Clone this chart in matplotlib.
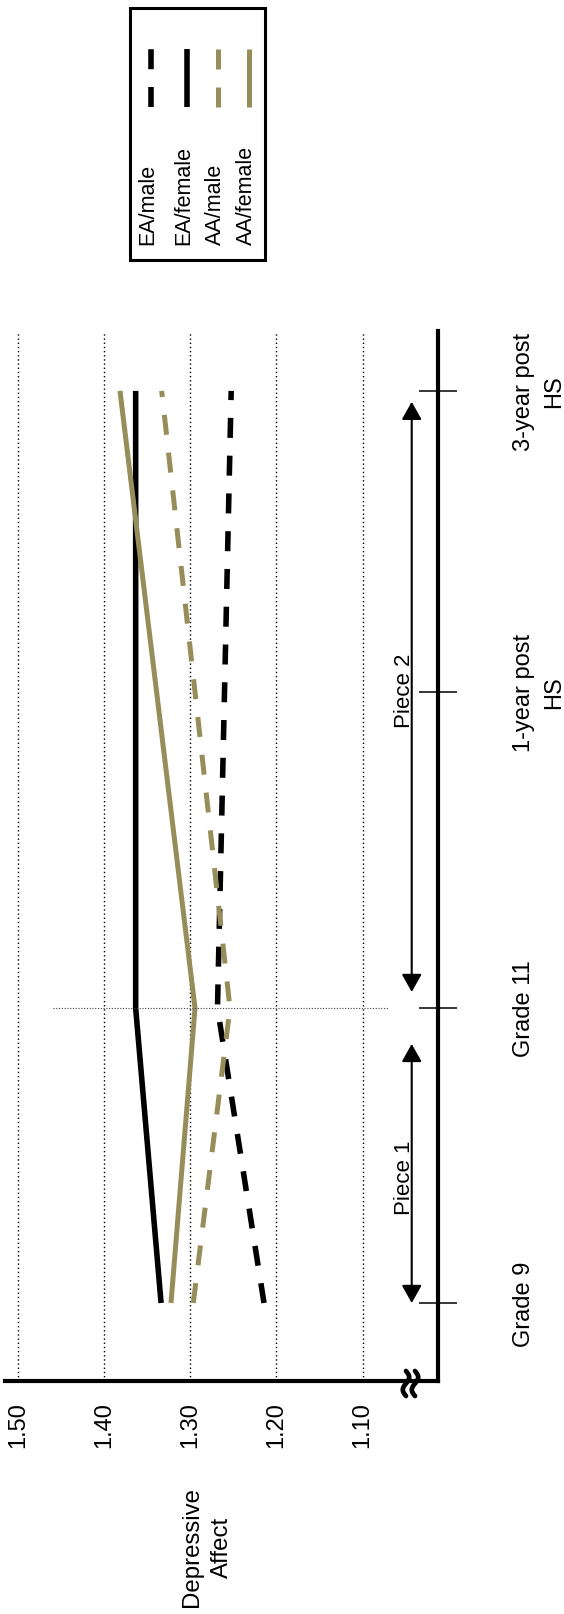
import numpy as np
import matplotlib
matplotlib.use('Agg')
import matplotlib.pyplot as plt
from matplotlib.patches import Rectangle, ArrowStyle
from matplotlib.lines import Line2D

plt.rcParams['font.family'] = ['Liberation Sans', 'DejaVu Sans']

# time points on the (rotated) time axis: Grade 9 .. 3-year post HS
time_pts = [0, 0.97, 2.01, 3.0]
time_labels = ['Grade 9', 'Grade 11', '1-year post\nHS', '3-year post\nHS']

# piecewise model: values at Grade 9, Grade 11 and 3-year post HS
line_t = [0, 0.97, 3.0]
groups = ['EA/male', 'EA/female', 'AA/male', 'AA/female']
ea_male = [1.2145, 1.2685, 1.2526]
ea_female = [1.334, 1.3635, 1.3635]
aa_male = [1.2966, 1.254, 1.3333]
aa_female = [1.3225, 1.2946, 1.3817]

value_ticks = [1.50, 1.40, 1.30, 1.20, 1.10]
value_labels = ['1.50', '1.40', '1.30', '1.20', '1.10']

pieces = ['Piece 1', 'Piece 2']
piece_start = [0, 1.023]
piece_end = [0.852, 2.964]
piece_mid = [0.414, 2.016]

GOLD = '#978D5B'
styles = [
    dict(color='black', lw=4.0, ls=(0, (3.6, 3.2))),
    dict(color='black', lw=4.0, ls='-'),
    dict(color=GOLD, lw=3.6, ls=(0, (4.0, 3.6))),
    dict(color=GOLD, lw=3.6, ls='-'),
]
series = [ea_male, ea_female, aa_male, aa_female]

W, H = 564, 1615
fig = plt.figure(figsize=(W / 100, H / 100), dpi=100)

# axes in pixel terms: value axis runs right->left, time runs bottom->top
ax = fig.add_axes([4.7 / W, (H - 1382) / H, 433 / W, 1050 / H])
ax.set_xlim(1.51556, 1.01283)
ax.set_ylim(-0.2566, 3.197)

for vals, st in zip(series, styles):
    ax.plot(vals, line_t, solid_capstyle='butt', dash_capstyle='butt', **st)

# dotted marker at the knot (Grade 11)
ax.plot([1.4595, 1.0706], [time_pts[1], time_pts[1]], color='#444444',
        lw=0.8, ls=(0, (1, 1.5)))

ax.set_xticks(value_ticks)
ax.set_xticklabels(value_labels, rotation=90, fontsize=17)
ax.tick_params(axis='x', length=0, pad=14.4)
ax.grid(axis='x', color='black', ls=(0, (1, 2)), lw=1.0)

ax.yaxis.tick_right()
ax.set_yticks(time_pts)
ax.set_yticklabels(time_labels, rotation=90, fontsize=17, ha='left',
                   va='center', ma='center', linespacing=1.45)
ax.tick_params(axis='y', direction='inout', length=27, width=1.1, pad=41)

for s in ['top', 'left']:
    ax.spines[s].set_visible(False)
for s in ['bottom', 'right']:
    ax.spines[s].set_linewidth(3.0)

# piece arrows
arrow_v = 1.043
for lab, t0, t1, tm in zip(pieces, piece_start, piece_end, piece_mid):
    ax.annotate('', xy=(arrow_v, t1), xytext=(arrow_v, t0),
                arrowprops=dict(arrowstyle=ArrowStyle('<|-|>', head_length=0.8, head_width=0.45),
                                mutation_scale=13.5, lw=1.5, color='black',
                                shrinkA=0, shrinkB=0))
    ax.text(1.0445, tm, lab, rotation=90, rotation_mode='anchor', ha='center',
            va='baseline', fontsize=16)

# y label
fig.text(207 / W, 1 - 1547 / H, 'Depressive\nAffect', rotation=90, ha='center',
         va='center', ma='center', fontsize=17.3, linespacing=1.45)

# axis break mark
s = np.linspace(0, 1, 40)
for cx in [406, 415]:
    xs = cx + 3.2 * np.sin(2 * np.pi * s)
    ys = 1372 + 25 * s
    fig.add_artist(Line2D(xs / 100, (H - ys) / 100, transform=fig.dpi_scale_trans,
                          color='black', lw=3.4, solid_capstyle='round'))

# legend drawn by hand (rotated)
lax = fig.add_axes([128 / W, 1 - 262 / H, 138 / W, 255 / H])
lax.set_xlim(128, 266)
lax.set_ylim(262, 7)
lax.axis('off')
lax.add_patch(Rectangle((129.5, 8.5), 135, 252, fill=False, lw=2.2,
                        ec='black', clip_on=False))
text_x = [148, 184, 215, 246]
for g, st, tx in zip(groups, styles, text_x):
    lax.plot([tx + 3, tx + 3], [108, 50], solid_capstyle='butt',
             dash_capstyle='butt', **st)
    lax.text(tx, 245, g, rotation=90, rotation_mode='anchor', ha='left',
             va='center', fontsize=15.5)

fig.savefig('out.png', dpi=100)
